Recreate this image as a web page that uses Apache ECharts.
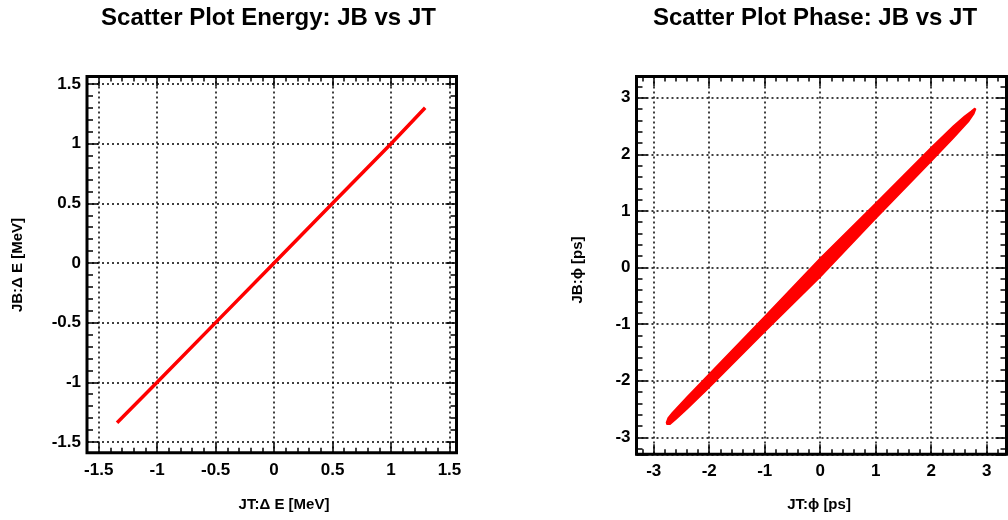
<!DOCTYPE html>
<html>
<head>
<meta charset="utf-8">
<script src="https://cdn.jsdelivr.net/npm/echarts@6/dist/echarts.min.js"></script>
<style>
html,body{margin:0;padding:0;background:#fff;}
#chart{width:1008px;height:520px;}
</style>
</head>
<body>
<div id="chart"></div>
<script>
// ---- Data ----
const TITLES = ['Scatter Plot Energy: JB vs JT', 'Scatter Plot Phase: JB vs JT'];
const X_TITLES = ['JT:\u0394 E [MeV]', 'JT:\u03D5 [ps]'];
const Y_TITLES = ['JB:\u0394 E [MeV]', 'JB:\u03D5 [ps]'];

// Energy scatter: thin line of points
const ENERGY_JT = [-1.343, -1.0, -0.5, 0.0, 0.5, 1.0, 1.292];
const ENERGY_JB = [-1.339, -1.0, -0.5, 0.0, 0.5, 1.0, 1.301];

// Phase scatter: outline of the dense point cloud (upper then lower edge)
const PHASE_UPPER = [[-2.77,-2.74],[-2.74,-2.66],[-2.66,-2.56],[-2.4,-2.29],[-2.0,-1.88],[-1.0,-0.865],[0.0,0.165],[1.0,1.135],[2.0,2.12],[2.4,2.50],[2.6,2.67],[2.72,2.76],[2.78,2.81],[2.80,2.80]];
const PHASE_LOWER = [[2.80,2.80],[2.77,2.72],[2.68,2.59],[2.4,2.29],[2.0,1.88],[1.0,0.865],[0.0,-0.165],[-1.0,-1.135],[-2.0,-2.12],[-2.4,-2.50],[-2.6,-2.68],[-2.71,-2.77],[-2.76,-2.77]];

// Axis ranges and tick steps
const ENERGY_X_RANGE = [-1.6, 1.56];
const ENERGY_Y_RANGE = [-1.59, 1.563];
const PHASE_X_RANGE = [-3.31, 3.357];
const PHASE_Y_RANGE = [-3.30, 3.375];
const ENERGY_MAJOR = 0.5, ENERGY_MINOR = 0.1;
const PHASE_MAJOR = 1, PHASE_MINOR = 0.2;

// ---- Layout ----
const GRID_L = {left: 87, top: 76.5, width: 369.5, height: 376.2};
const GRID_R = {left: 636.5, top: 76.5, width: 370, height: 377.8};
const FONT = 'Liberation Sans, Arial, Helvetica, sans-serif';

function gridOf(g, border) {
  return Object.assign({
    show: border, borderWidth: 3, borderColor: '#000', backgroundColor: 'transparent',
    containLabel: false, outerBoundsMode: 'none'
  }, g);
}

function isMultiple(v, step) {
  const r = v / step;
  return Math.abs(r - Math.round(r)) < 1e-6;
}

function axis(kind, gridIndex, position, range, step, major, labels) {
  const span = range[1] - range[0];
  return {
    type: 'value', gridIndex: gridIndex, position: position,
    min: range[0], max: range[1],
    minInterval: step, maxInterval: step,
    splitNumber: Math.round(span / step),
    scale: true,
    axisLine: {show: false, onZero: false},
    axisTick: {show: true, inside: true, length: major ? (kind === 'x' ? 10 : 11) : (kind === 'x' ? 5 : 6),
      lineStyle: {color: '#000', width: 1.5}},
    minorTick: {show: false},
    axisLabel: {
      show: labels, color: '#000', fontFamily: FONT, fontWeight: 'bold', fontSize: 17,
      margin: kind === 'x' ? 9 : 6, showMinLabel: true, showMaxLabel: true, hideOverlap: false,
      formatter: function (v) { return isMultiple(v, step) ? String(+v.toFixed(6)) : ''; }
    },
    splitLine: {show: major && labels, lineStyle: {color: '#000', width: 1.5, type: [2, 3]}},
    splitArea: {show: false}
  };
}

const xAxes = [], yAxes = [];
function addAxes(gMain, gMinor, xr, yr, maj, minr) {
  xAxes.push(axis('x', gMain, 'bottom', xr, maj, true, true));
  xAxes.push(axis('x', gMain, 'top', xr, maj, true, false));
  xAxes.push(axis('x', gMinor, 'bottom', xr, minr, false, false));
  xAxes.push(axis('x', gMinor, 'top', xr, minr, false, false));
  yAxes.push(axis('y', gMain, 'left', yr, maj, true, true));
  yAxes.push(axis('y', gMain, 'right', yr, maj, true, false));
  yAxes.push(axis('y', gMinor, 'left', yr, minr, false, false));
  yAxes.push(axis('y', gMinor, 'right', yr, minr, false, false));
}
addAxes(0, 1, ENERGY_X_RANGE, ENERGY_Y_RANGE, ENERGY_MAJOR, ENERGY_MINOR);
addAxes(2, 3, PHASE_X_RANGE, PHASE_Y_RANGE, PHASE_MAJOR, PHASE_MINOR);

const energyData = ENERGY_JT.map((x, i) => [x, ENERGY_JB[i]]);
const phaseOutline = PHASE_UPPER.concat(PHASE_LOWER);

function textEl(str, x, y, size, rot) {
  return {
    type: 'text', x: x, y: y, rotation: rot || 0,
    style: {text: str, fill: '#000', font: 'bold ' + size + 'px ' + FONT,
      align: 'center', verticalAlign: 'middle'}
  };
}

const option = {
  animation: false,
  backgroundColor: '#fff',
  grid: [gridOf(GRID_L, true), gridOf(GRID_L, false), gridOf(GRID_R, true), gridOf(GRID_R, false)],
  xAxis: xAxes,
  yAxis: yAxes,
  series: [
    {
      type: 'line', xAxisIndex: 0, yAxisIndex: 0, data: energyData,
      showSymbol: false, symbol: 'none', smooth: false,
      lineStyle: {color: '#ff0000', width: 3.5}, z: 5
    },
    {
      type: 'custom', xAxisIndex: 4, yAxisIndex: 4, data: [[0, 0]],
      encode: {x: 0, y: 1}, z: 5,
      renderItem: function (params, api) {
        const pts = phaseOutline.map(p => api.coord(p));
        return {type: 'polygon', shape: {points: pts},
          style: {fill: '#ff0000', stroke: '#ff0000', lineWidth: 1.5, lineJoin: 'round'}};
      }
    }
  ],
  graphic: [
    textEl(TITLES[0], 268.5, 18, 24),
    textEl(TITLES[1], 815, 18, 24),
    textEl(X_TITLES[0], 284, 505, 15),
    textEl(X_TITLES[1], 819, 505, 15),
    textEl(Y_TITLES[0], 18, 265, 15, Math.PI / 2),
    textEl(Y_TITLES[1], 578, 270, 15, Math.PI / 2)
  ]
};

const chart = echarts.init(document.getElementById('chart'), null, {renderer: 'canvas'});
chart.setOption(option);
</script>
</body>
</html>
